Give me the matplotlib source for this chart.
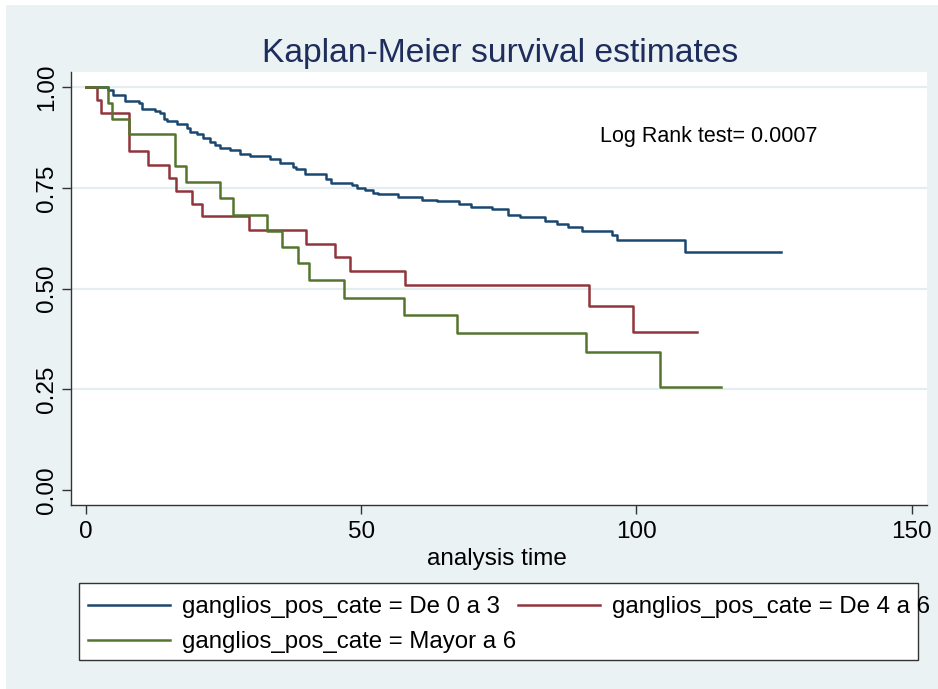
import matplotlib
matplotlib.use("Agg")
import matplotlib.pyplot as plt
from matplotlib.patches import Rectangle
from matplotlib.ticker import FormatStrFormatter

plt.rcParams["font.family"] = ["Liberation Sans", "DejaVu Sans"]

# Kaplan-Meier step points (time, survival)
time_0a3 = [0, 4.0, 4.9, 7.0, 9.7, 10.1, 12.6, 13.5, 14.1, 14.7, 16.5, 18.3, 18.9,
            20.1, 21.3, 22.5, 23.4, 24.4, 26.2, 28.0, 29.8, 33.4, 35.2, 37.6, 38.2,
            39.8, 43.6, 44.6, 48.3, 49.3, 50.7, 52.1, 53.0, 56.7, 61.0, 63.7, 67.8,
            70.0, 73.7, 76.7, 78.8, 83.4, 85.5, 87.6, 90.2, 95.5, 96.5, 108.8, 126.2]
surv_0a3 = [1.0, 0.993, 0.982, 0.966, 0.960, 0.945, 0.941, 0.935, 0.922, 0.916, 0.910,
            0.898, 0.889, 0.885, 0.873, 0.864, 0.856, 0.850, 0.844, 0.835, 0.829,
            0.823, 0.811, 0.802, 0.796, 0.786, 0.773, 0.763, 0.757, 0.749, 0.744,
            0.738, 0.734, 0.728, 0.721, 0.717, 0.710, 0.703, 0.697, 0.684, 0.677,
            0.668, 0.660, 0.652, 0.643, 0.634, 0.622, 0.591, 0.591]

time_4a6 = [0, 2.0, 2.7, 7.9, 11.2, 15.1, 16.3, 19.2, 21.0, 29.6, 39.9, 45.3, 48.0,
            58.0, 91.4, 99.3, 111.1]
surv_4a6 = [1.0, 0.968, 0.937, 0.841, 0.808, 0.776, 0.743, 0.711, 0.680, 0.645,
            0.612, 0.579, 0.544, 0.509, 0.458, 0.393, 0.393]

time_may6 = [0, 4.0, 4.8, 7.9, 16.2, 18.1, 24.4, 26.7, 32.8, 35.7, 38.6, 40.5, 46.9,
             57.8, 67.5, 90.8, 104.3, 115.3]
surv_may6 = [1.0, 0.962, 0.922, 0.885, 0.804, 0.765, 0.724, 0.682, 0.643, 0.604,
             0.564, 0.521, 0.476, 0.434, 0.390, 0.342, 0.256, 0.256]

labels = ["ganglios_pos_cate = De 0 a 3",
          "ganglios_pos_cate = De 4 a 6",
          "ganglios_pos_cate = Mayor a 6"]
colors = ["#1A476F", "#90353B", "#55752F"]
y_ticks = [0, 0.25, 0.5, 0.75, 1.0]
x_ticks = [0, 50, 100, 150]

bg = "#EAF2F3"
fig = plt.figure(figsize=(9.38, 6.89), dpi=100, facecolor=bg)
# thin white margin on top and left
fig.patches.append(Rectangle((0, 0), 6 / 938, 1, transform=fig.transFigure,
                             facecolor="white", edgecolor="none", zorder=-1))
fig.patches.append(Rectangle((0, 1 - 5 / 689), 1, 5 / 689, transform=fig.transFigure,
                             facecolor="white", edgecolor="none", zorder=-1))

ax = fig.add_axes([71 / 938, 1 - 505 / 689, 856 / 938, 433 / 689])
ax.set_facecolor("white")

series = [(time_0a3, surv_0a3), (time_4a6, surv_4a6), (time_may6, surv_may6)]
handles = []
for (t, s), col, lab in zip(series, colors, labels):
    ln, = ax.plot(t, s, drawstyle="steps-post", color=col, linewidth=1.8,
                  label=lab, zorder=3)
    handles.append(ln)

ax.set_xlim(-2.72, 152.8)
ax.set_ylim(-0.037, 1.038)
ax.set_xticks(x_ticks)
ax.set_yticks(y_ticks)
ax.yaxis.set_major_formatter(FormatStrFormatter("%.2f"))
ax.grid(True, axis="y", color="#E4EDEF", linewidth=1.6, zorder=0)
ax.yaxis.get_gridlines()[0].set_visible(False)

for side in ["top", "right"]:
    ax.spines[side].set_visible(False)
for side in ["left", "bottom"]:
    ax.spines[side].set_color("#333333")
    ax.spines[side].set_linewidth(1.0)

ax.tick_params(axis="both", direction="out", length=6.5, width=1.0,
               color="#333333", labelsize=17.5)
ax.tick_params(axis="x", pad=5)
ax.tick_params(axis="y", pad=3)
for lbl in ax.get_yticklabels():
    lbl.set_rotation(90)
    lbl.set_va("center")

ax.text(93.4, 0.864, "Log Rank test= 0.0007", fontsize=15.5, va="baseline")

fig.text(500 / 938, 1 - 62 / 689, "Kaplan-Meier survival estimates",
         fontsize=24.2, color="#1F2D5C", ha="center", va="baseline")
fig.text(497 / 938, 1 - 565 / 689, "analysis time", fontsize=17.5,
         ha="center", va="baseline")

# legend frame drawn separately so the text can run past its edge like the original
fig.patches.append(Rectangle((79 / 938, 1 - 660 / 689), 839 / 938, 77 / 689,
                             transform=fig.transFigure, facecolor="white",
                             edgecolor="#333333", linewidth=1.0, zorder=1))
fig.legend([handles[0], handles[2], handles[1]],
           [labels[0], labels[2], labels[1]],
           ncol=2, loc="upper left", bbox_to_anchor=(88 / 938, 1 - 596 / 689),
           frameon=False, fontsize=17.3, handlelength=3.42, handletextpad=0.5,
           columnspacing=0.08, labelspacing=0.56, borderpad=0, borderaxespad=0)

fig.savefig("out.png", dpi=100, facecolor=bg)
